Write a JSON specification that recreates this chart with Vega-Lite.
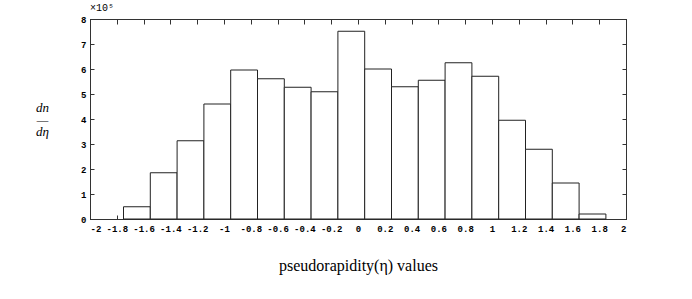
{
  "$schema": "https://vega.github.io/schema/vega-lite/v6.json",
  "width": 536,
  "height": 200,
  "autosize": {"type": "none"},
  "padding": {"left": 90, "top": 19, "right": 66, "bottom": 80},
  "background": "white",
  "title": {"text": "×10⁵", "anchor": "start", "frame": "group", "font": "Liberation Mono", "fontSize": 10, "fontWeight": "normal", "offset": 2, "color": "black"},
  "data": {"values": [
    {"x0": -1.75, "x1": -1.55, "count": 49000},
    {"x0": -1.55, "x1": -1.35, "count": 185000},
    {"x0": -1.35, "x1": -1.15, "count": 313000},
    {"x0": -1.15, "x1": -0.95, "count": 460000},
    {"x0": -0.95, "x1": -0.75, "count": 596000},
    {"x0": -0.75, "x1": -0.55, "count": 561000},
    {"x0": -0.55, "x1": -0.35, "count": 527000},
    {"x0": -0.35, "x1": -0.15, "count": 509000},
    {"x0": -0.15, "x1": 0.05, "count": 751000},
    {"x0": 0.05, "x1": 0.25, "count": 600000},
    {"x0": 0.25, "x1": 0.45, "count": 529000},
    {"x0": 0.45, "x1": 0.65, "count": 555000},
    {"x0": 0.65, "x1": 0.85, "count": 625000},
    {"x0": 0.85, "x1": 1.05, "count": 571000},
    {"x0": 1.05, "x1": 1.25, "count": 395000},
    {"x0": 1.25, "x1": 1.45, "count": 279000},
    {"x0": 1.45, "x1": 1.65, "count": 144000},
    {"x0": 1.65, "x1": 1.85, "count": 20000}
  ]},
  "layer": [
    {
      "mark": {"type": "bar", "fill": "white", "stroke": "#222", "strokeWidth": 1},
      "encoding": {
        "x": {"field": "x0", "type": "quantitative", "scale": {"domain": [-2, 2], "nice": false, "zero": false},
          "axis": {"orient": "bottom", "values": [-2,-1.8,-1.6,-1.4,-1.2,-1,-0.8,-0.6,-0.4,-0.2,0,0.2,0.4,0.6,0.8,1,1.2,1.4,1.6,1.8,2],
            "labelExpr": "replace(format(datum.value, '~g'), '−', '-')",
            "title": "pseudorapidity(η) values", "titleFont": "Liberation Serif", "titleFontSize": 16, "titleFontWeight": "normal", "titlePadding": 24,
            "tickSize": -4, "labelPadding": 9, "grid": false}},
        "x2": {"field": "x1"},
        "y": {"field": "count", "type": "quantitative", "scale": {"domain": [0, 800000], "nice": false},
          "axis": {"orient": "left", "values": [0,100000,200000,300000,400000,500000,600000,700000,800000],
            "labelExpr": "format(datum.value/100000, 'd')",
            "title": ["dn", "—", "dη"], "titleAngle": 0, "titleFont": "Liberation Serif", "titleFontStyle": "italic", "titleFontSize": 13, "titleFontWeight": "normal", "titleLineHeight": 12,
            "titleX": -48, "titleY": 88, "titleAlign": "center", "titleBaseline": "middle",
            "tickSize": -4, "labelPadding": 8, "grid": false}},
        "y2": {"datum": 0}
      }
    },
    {
      "mark": {"type": "bar", "opacity": 0},
      "encoding": {
        "x": {"field": "x0", "type": "quantitative", "scale": {"domain": [-2, 2], "nice": false, "zero": false},
          "axis": {"orient": "top", "values": [-2,-1.8,-1.6,-1.4,-1.2,-1,-0.8,-0.6,-0.4,-0.2,0,0.2,0.4,0.6,0.8,1,1.2,1.4,1.6,1.8,2], "labels": false, "title": null, "tickSize": -5, "grid": false}},
        "x2": {"field": "x1"},
        "y": {"field": "count", "type": "quantitative", "scale": {"domain": [0, 800000], "nice": false},
          "axis": {"orient": "right", "values": [0,100000,200000,300000,400000,500000,600000,700000,800000], "labels": false, "title": null, "tickSize": -4, "grid": false}},
        "y2": {"datum": 0}
      }
    }
  ],
  "resolve": {"axis": {"x": "independent", "y": "independent"}},
  "config": {
    "view": {"stroke": "black", "strokeWidth": 1},
    "axis": {"domainColor": "#333", "tickColor": "#333", "labelColor": "black", "titleColor": "black", "labelFont": "Liberation Mono", "labelFontSize": 9, "labelFontWeight": "bold"}
  }
}
